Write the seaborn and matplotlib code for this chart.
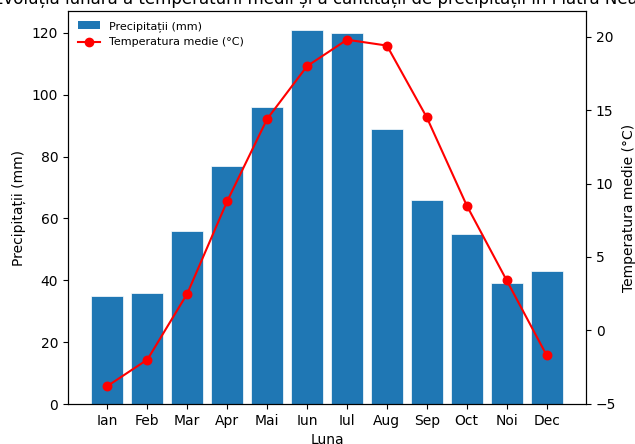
import matplotlib
matplotlib.use("Agg")
import matplotlib.pyplot as plt
import seaborn as sns
import pandas as pd
from matplotlib.patches import Patch
from matplotlib.lines import Line2D

months = ["Ian", "Feb", "Mar", "Apr", "Mai", "Iun", "Iul", "Aug", "Sep", "Oct", "Noi", "Dec"]
precip = [35, 36, 56, 77, 96, 121, 120, 89, 66, 55, 39, 43]
temps = [-3.8, -2.0, 2.5, 8.8, 14.4, 18.0, 19.8, 19.4, 14.5, 8.5, 3.4, -1.7]

title = "Evoluția lunară a temperaturii medii și a cantității de precipitații în Piatra Neamț"
bar_label = "Precipitații (mm)"
line_label = "Temperatura medie (°C)"

df = pd.DataFrame({"Luna": months, "precip": precip, "temp": temps})

bar_color = "#1f77b4"

fig, ax = plt.subplots(figsize=(6.35, 4.44), dpi=100)
fig.subplots_adjust(left=0.107, right=0.923, bottom=0.090, top=0.975)

sns.barplot(data=df, x="Luna", y="precip", order=months, color=bar_color,
            saturation=1, width=0.8, edgecolor="white", linewidth=0.5, ax=ax)
ax.set_ylabel(bar_label)
ax.set_xlabel("Luna")

ax2 = ax.twinx()
sns.pointplot(data=df, x="Luna", y="temp", order=months, color="red",
              markers="o", linestyles="-", linewidth=1.5, markersize=6, ax=ax2)
ax2.set_ylabel(line_label)
ax2.set_xlabel("Luna")
ax2.set_ylim(-5.03, 21.75)
ax.set_ylim(0, 127.05)
ax.set_xlim(-0.99, 11.99)
ax2.set_xlim(-0.99, 11.99)

ax.set_title(title, pad=5, fontsize=12)

handles = [Patch(facecolor=bar_color, label=bar_label),
           Line2D([0], [0], color="red", marker="o", markersize=6, lw=1.5, label=line_label)]
ax.legend(handles=handles, loc="upper left", fontsize=8, frameon=False)

fig.savefig("out.png", dpi=100)
